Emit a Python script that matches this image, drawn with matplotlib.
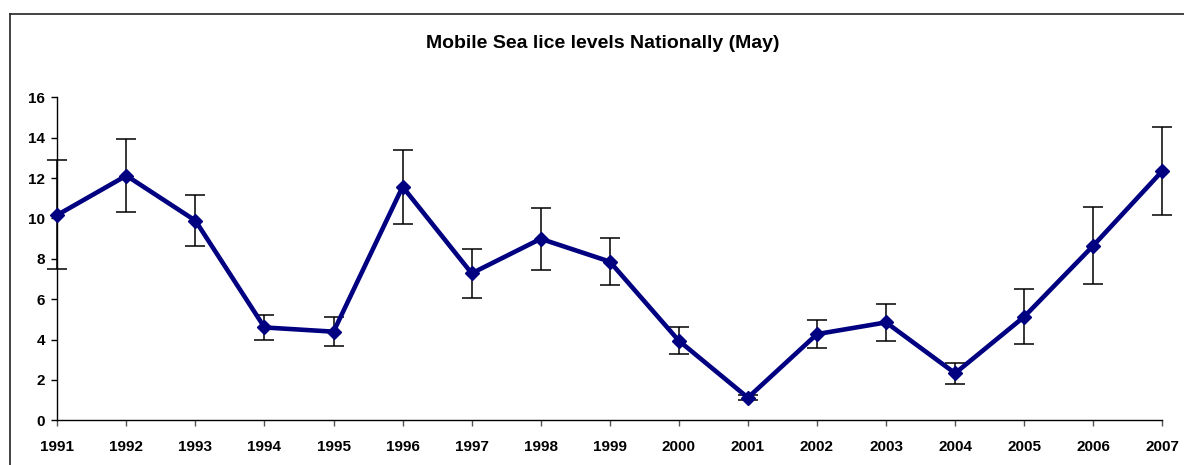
import matplotlib
matplotlib.use("Agg")
import matplotlib.pyplot as plt
from matplotlib.lines import Line2D

years = [1991, 1992, 1993, 1994, 1995, 1996, 1997, 1998, 1999,
         2000, 2001, 2002, 2003, 2004, 2005, 2006, 2007]
lice = [10.17, 12.12, 9.89, 4.6, 4.39, 11.57, 7.28, 8.99, 7.86,
        3.94, 1.12, 4.27, 4.85, 2.33, 5.13, 8.65, 12.35]
err = [2.7, 1.8, 1.27, 0.64, 0.71, 1.83, 1.2, 1.53, 1.17,
       0.67, 0.12, 0.71, 0.91, 0.52, 1.35, 1.9, 2.18]
title = "Mobile Sea lice levels Nationally (May)"
yticks = [0, 2, 4, 6, 8, 10, 12, 14, 16]

plt.rcParams['font.family'] = ['Liberation Sans', 'DejaVu Sans']

W, H = 1184, 465
fig = plt.figure(figsize=(W / 100, H / 100), dpi=100)
ax = fig.add_axes([57.3 / W, 1 - 420.3 / H, (1162.3 - 57.3) / W, (420.3 - 97.3) / H])

ax.errorbar(years, lice, yerr=err, fmt='none', ecolor='black', elinewidth=1.1,
            capsize=7.5, capthick=1.1, zorder=2, clip_on=False)
ax.plot(years, lice, color='#000080', linewidth=3.3, marker='D', markersize=7,
        markerfacecolor='#000080', markeredgecolor='#000080', zorder=3, clip_on=False)

ax.set_xlim(years[0], years[-1])
ax.set_ylim(0, 16)
ax.set_xticks(years)
ax.set_xticklabels([str(y) for y in years])
ax.set_yticks(yticks)
ax.set_yticklabels([str(v) for v in yticks])

for s in ['top', 'right']:
    ax.spines[s].set_visible(False)
for s in ['left', 'bottom']:
    ax.spines[s].set_color('black')
    ax.spines[s].set_linewidth(1.0)

ax.tick_params(axis='both', direction='out', length=4, width=1.0)
ax.tick_params(axis='x', colors='#555555', pad=10, labelsize=11)
ax.tick_params(axis='y', colors='black', pad=5, labelsize=11)
for lab in ax.get_xticklabels() + ax.get_yticklabels():
    lab.set_fontweight('bold')
    lab.set_color('black')

fig.text(603 / W, 1 - 43.5 / H, title, ha='center', va='center',
         fontsize=14, fontweight='bold', color='black')

# chart area border (cropped at right/bottom)
fig.add_artist(Line2D([9.5 / W, 9.5 / W], [1 - 14 / H, 0], transform=fig.transFigure,
                      color='#222222', linewidth=1.2))
fig.add_artist(Line2D([9.5 / W, 1], [1 - 14 / H, 1 - 14 / H], transform=fig.transFigure,
                      color='#222222', linewidth=1.2))

fig.savefig("out.png", dpi=100)
